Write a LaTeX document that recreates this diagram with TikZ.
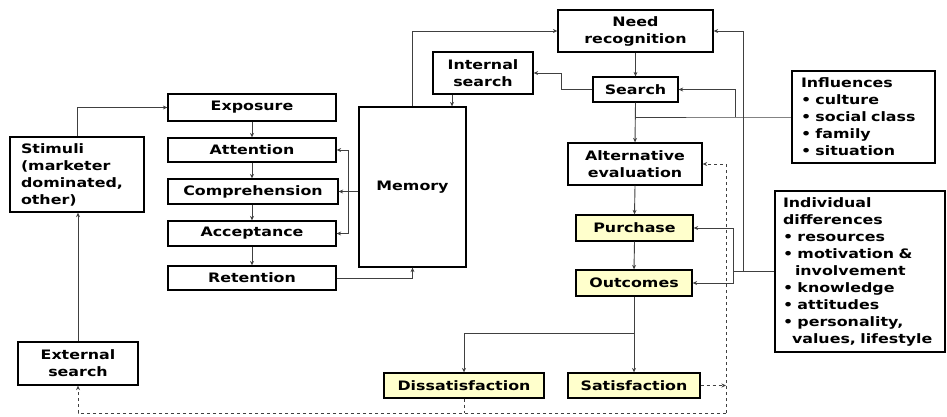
\documentclass[tikz,border=0pt]{standalone}
\usepackage{fontspec}
\newfontfamily\diafont{DejaVu Sans}[FakeStretch=1.22]
\usetikzlibrary{arrows.meta}
\definecolor{paleyellow}{RGB}{255,255,204}
\tikzset{
  box/.style={draw, line width=1.3pt, inner sep=0pt, align=center,
    font=\diafont\bfseries\fontsize{13}{17}\selectfont},
  ybox/.style={box, fill=paleyellow},
  wire/.style={draw=black!75, line width=0.9pt},
  link/.style={wire, -{Stealth[length=4.5pt,width=4pt]}},
  back/.style={link, dashed},
}
\begin{document}
\begin{tikzpicture}[x=1pt,y=-1pt]
  \useasboundingbox (0,0) rectangle (947,416);
  \node[box, align=left, text width=112pt, inner xsep=11pt, minimum height=75pt] (stim) at (77,174.5) {Stimuli\\(marketer\\dominated,\\other)};
  \node[box, minimum width=168pt, minimum height=27pt] (expo) at (252,107.5) {Exposure};
  \node[box, minimum width=168pt, minimum height=24pt] (att) at (252,150) {Attention};
  \node[box, minimum width=170pt, minimum height=25pt] (comp) at (253,191.5) {Comprehension};
  \node[box, minimum width=168pt, minimum height=25pt] (acc) at (252,233.5) {Acceptance};
  \node[box, minimum width=168pt, minimum height=24pt] (ret) at (252,278) {Retention};
  \node[box, minimum width=107pt, minimum height=160pt] (mem) at (412.5,187) {Memory};
  \node[box, minimum width=120pt, minimum height=43pt] (ext) at (78,363.5) {External\\search};
  \node[box, minimum width=155pt, minimum height=42pt] (need) at (635.5,31) {Need\\recognition};
  \node[box, minimum width=100pt, minimum height=42pt] (isrch) at (483,73) {Internal\\search};
  \node[box, minimum width=85pt, minimum height=25pt] (srch) at (635.5,89.5) {Search};
  \node[box, minimum width=134pt, minimum height=42pt] (alt) at (635,164) {Alternative\\evaluation};
  \node[ybox, minimum width=117pt, minimum height=26pt] (purch) at (634.5,228) {Purchase};
  \node[ybox, minimum width=116pt, minimum height=26pt] (outc) at (634,283) {Outcomes};
  \node[ybox, minimum width=160pt, minimum height=25pt] (dis) at (464,385.5) {Dissatisfaction};
  \node[ybox, minimum width=132pt, minimum height=25pt] (sat) at (634,385.5) {Satisfaction};
  \node[box, align=left, text width=125pt, inner xsep=9pt, minimum height=92pt] (infl) at (863.5,117) {Influences\\• culture\\• social class\\• family\\• situation};
  \node[box, align=left, text width=154pt, inner xsep=8pt, minimum height=161pt] (indiv) at (860,271.5) {Individual\\differences\\• resources\\• motivation \&\\\hspace*{12pt}involvement\\• knowledge\\• attitudes\\• personality,\\\hspace*{9pt}values, lifestyle};

  \draw[link] (stim.north) |- (expo.west);
  \draw[link] (ext.north) -- (ext.north |- stim.south);
  \draw[link] (expo.south) -- (att.north);
  \draw[link] (att.south) -- (att.south |- comp.north);
  \draw[link] (att.south |- comp.south) -- (acc.north);
  \draw[link] (acc.south) -- (ret.north);
  \coordinate (mj) at (348,191.5);
  \draw[wire] (mem.west |- mj) -- (mj);
  \draw[link] (mj) |- (att.east);
  \draw[link] (mj) -- (comp.east);
  \draw[link] (mj) |- (acc.east);
  \draw[link] (ret.east) -| (mem.south);
  \draw[link] (mem.north) |- (need.west);
  \draw[link] ([xshift=-31pt]isrch.south) -- ([xshift=-31pt]isrch.south |- mem.north);
  \draw[link] (need.south) -- (srch.north);
  \draw[link] (srch.west) -- ++(-31,0) |- (isrch.east);
  \draw[link] (srch.south) -- (alt.north);
  \coordinate (ij) at (735,117);
  \draw[wire] (infl.west) -- (ij) -- (ij -| srch.south);
  \draw[link] (ij) |- (srch.east);
  \draw[link] (alt.south) -- (purch.north);
  \draw[link] (purch.south) -- (outc.north);
  \coordinate (dj) at (733,271.5);
  \draw[wire] (indiv.west) -- (dj);
  \draw[link] (indiv.west) ++(-31,0) |- (need.east);
  \draw[link] (dj) |- (purch.east);
  \draw[link] (dj) |- (outc.east);
  \draw[link] (outc.south) -- (sat.north);
  \draw[link] (outc.south) ++(0,37) -| (dis.north);
  \coordinate (fb) at (726,413);
  \draw[back] (sat.east) -- (sat.east -| fb);
  \draw[back, -] (dis.south) -- (dis.south |- fb);
  \draw[back] (fb) |- (alt.east);
  \draw[back] (fb) -| (ext.south);
\end{tikzpicture}
\end{document}
